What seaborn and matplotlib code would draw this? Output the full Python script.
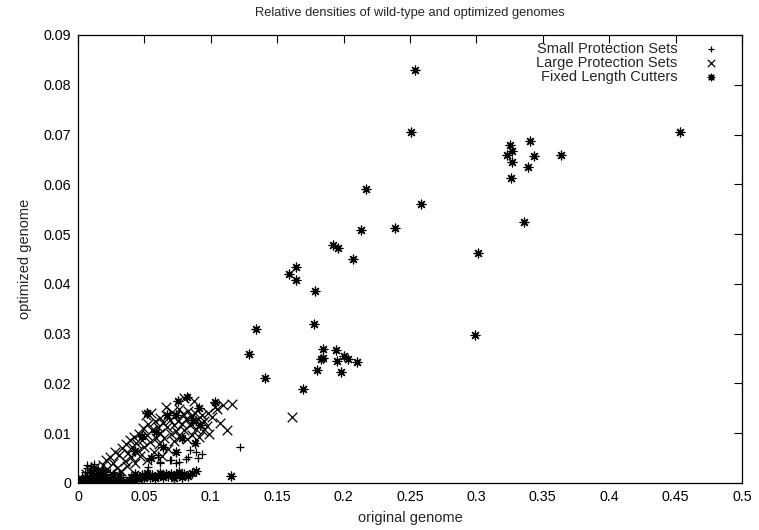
# Relative densities of wild-type and optimized genomes (gnuplot style)

import pandas as pd
import seaborn as sns
import matplotlib.pyplot as plt

# Small Protection Sets (+)
small_pts = [
    (0.001, 0.0002), (0.002, 0.0008), (0.003, 0.0004), (0.003, 0.0015), (0.004, 0.0011),
    (0.005, 0.0006), (0.005, 0.0022), (0.006, 0.0013), (0.007, 0.0030), (0.007, 0.0009),
    (0.008, 0.0017), (0.009, 0.0007), (0.009, 0.0026), (0.010, 0.0035), (0.011, 0.0013),
    (0.011, 0.0021), (0.012, 0.0032), (0.013, 0.0009), (0.014, 0.0024), (0.014, 0.0016),
    (0.015, 0.0029), (0.016, 0.0012), (0.017, 0.0021), (0.018, 0.0008), (0.019, 0.0026),
    (0.020, 0.0014), (0.021, 0.0019), (0.022, 0.0010), (0.024, 0.0022), (0.025, 0.0013),
    (0.027, 0.0017), (0.029, 0.0011), (0.031, 0.0020), (0.034, 0.0012), (0.007, 0.0036),
    (0.012, 0.0038), (0.053, 0.0033), (0.060, 0.0056), (0.0604, 0.0053), (0.0617, 0.0043),
    (0.0617, 0.0040), (0.069, 0.0046), (0.0697, 0.0046), (0.074, 0.0040), (0.0762, 0.0043),
    (0.0815, 0.0049), (0.083, 0.0053), (0.0842, 0.0066), (0.0892, 0.0063), (0.0905, 0.0050),
    (0.0935, 0.0058), (0.122, 0.0073),
]

# Large Protection Sets (x)
large_pts = [
    (0.003, 0.0009), (0.005, 0.0004), (0.006, 0.0019), (0.008, 0.0011), (0.009, 0.0027),
    (0.011, 0.0006), (0.012, 0.0018), (0.013, 0.0033), (0.015, 0.0012), (0.016, 0.0025),
    (0.018, 0.0008), (0.019, 0.0037), (0.020, 0.0019),
    (0.021, 0.0046), (0.022, 0.0029), (0.024, 0.0052), (0.025, 0.0021), (0.026, 0.0040),
    (0.028, 0.0063), (0.029, 0.0031), (0.031, 0.0056), (0.032, 0.0024), (0.033, 0.0070),
    (0.035, 0.0045), (0.036, 0.0078), (0.037, 0.0034), (0.038, 0.0061), (0.039, 0.0086),
    (0.040, 0.0052),
    (0.041, 0.0073), (0.042, 0.0093), (0.043, 0.0040), (0.044, 0.0081), (0.045, 0.0064),
    (0.046, 0.0099), (0.047, 0.0055), (0.048, 0.0087), (0.049, 0.0110), (0.050, 0.0072),
    (0.051, 0.0136), (0.052, 0.0047), (0.052, 0.0096), (0.053, 0.0118), (0.054, 0.0083),
    (0.055, 0.0140), (0.056, 0.0106), (0.057, 0.0062), (0.058, 0.0124), (0.059, 0.0091),
    (0.060, 0.0113),
    (0.061, 0.0078), (0.062, 0.0131), (0.062, 0.0101), (0.063, 0.0054), (0.064, 0.0121),
    (0.065, 0.0090), (0.066, 0.0153), (0.067, 0.0112), (0.067, 0.0134), (0.068, 0.0068),
    (0.069, 0.0127), (0.070, 0.0098), (0.071, 0.0142), (0.072, 0.0116), (0.072, 0.0084),
    (0.073, 0.0136), (0.074, 0.0105), (0.075, 0.0125), (0.076, 0.0148), (0.077, 0.0093),
    (0.078, 0.0119), (0.079, 0.0138), (0.080, 0.0171), (0.080, 0.0107),
    (0.081, 0.0129), (0.082, 0.0088), (0.083, 0.0145), (0.084, 0.0116), (0.085, 0.0134),
    (0.086, 0.0097), (0.087, 0.0164), (0.087, 0.0123), (0.088, 0.0140), (0.089, 0.0108),
    (0.090, 0.0128), (0.091, 0.0093), (0.092, 0.0119), (0.093, 0.0136), (0.094, 0.0104),
    (0.095, 0.0125), (0.097, 0.0114), (0.098, 0.0140), (0.099, 0.0098),
    (0.101, 0.0132), (0.103, 0.0152), (0.105, 0.0148), (0.107, 0.0120), (0.109, 0.0157),
    (0.112, 0.0107), (0.116, 0.0158), (0.161, 0.0133),
    (0.002, 0.0002), (0.004, 0.0001), (0.007, 0.0003), (0.010, 0.0002), (0.014, 0.0004),
    (0.017, 0.0002), (0.022, 0.0001),
]

# Fixed Length Cutters (*)
cutter_pts = [
    # upper part
    (0.254, 0.0830), (0.251, 0.0705), (0.453, 0.0706), (0.340, 0.0688), (0.325, 0.0678),
    (0.327, 0.0666), (0.323, 0.0659), (0.343, 0.0657), (0.364, 0.0658), (0.327, 0.0645),
    (0.339, 0.0635), (0.326, 0.0613), (0.258, 0.0561), (0.336, 0.0525), (0.239, 0.0513),
    (0.301, 0.0462), (0.299, 0.0297), (0.2168, 0.0590), (0.2128, 0.0508), (0.1917, 0.0479),
    (0.1957, 0.0472), (0.2073, 0.0450), (0.1639, 0.0433), (0.1589, 0.0419), (0.1639, 0.0407),
    (0.1784, 0.0386), (0.1774, 0.0319), (0.1341, 0.0309), (0.1845, 0.0270), (0.1942, 0.0268),
    (0.1291, 0.0260), (0.1827, 0.0250), (0.1842, 0.0251), (0.2002, 0.0256), (0.2035, 0.0249),
    (0.1952, 0.0246), (0.2098, 0.0244), (0.1799, 0.0226), (0.1982, 0.0223), (0.1409, 0.0210),
    (0.1692, 0.0188), (0.1155, 0.0015),
    # inside the cluster
    (0.091, 0.0150), (0.103, 0.0163), (0.0667, 0.0137), (0.074, 0.0137), (0.0867, 0.0127),
    (0.0917, 0.0117), (0.078, 0.0090), (0.064, 0.0073), (0.074, 0.0063), (0.059, 0.0103),
    (0.0754, 0.0165), (0.082, 0.0173), (0.052, 0.0140), (0.048, 0.0095), (0.043, 0.0065),
    (0.055, 0.0050), (0.088, 0.0080),
    # row along the bottom
    (0.040, 0.0012), (0.043, 0.0018), (0.046, 0.0009), (0.048, 0.0016), (0.050, 0.0011),
    (0.052, 0.0020), (0.054, 0.0013), (0.056, 0.0017), (0.058, 0.0010), (0.060, 0.0015),
    (0.062, 0.0021), (0.064, 0.0012), (0.066, 0.0018), (0.068, 0.0014), (0.070, 0.0019),
    (0.072, 0.0011), (0.074, 0.0016), (0.076, 0.0022), (0.078, 0.0013), (0.080, 0.0018),
    (0.083, 0.0015), (0.086, 0.0020), (0.089, 0.0024),
    # near the origin
    (0.001, 0.0001), (0.002, 0.0003), (0.003, 0.0001), (0.004, 0.0005), (0.005, 0.0002),
    (0.006, 0.0004), (0.007, 0.0001), (0.008, 0.0006), (0.009, 0.0003), (0.010, 0.0008),
    (0.011, 0.0002), (0.012, 0.0005), (0.013, 0.0010), (0.014, 0.0003), (0.015, 0.0007),
    (0.016, 0.0012), (0.017, 0.0004), (0.018, 0.0009), (0.019, 0.0002), (0.020, 0.0006),
    (0.021, 0.0011), (0.023, 0.0001), (0.026, 0.0002), (0.028, 0.0001), (0.030, 0.0002),
    (0.032, 0.0001), (0.034, 0.0002), (0.036, 0.0001), (0.039, 0.0004), (0.042, 0.0006),
    (0.015, 0.0020), (0.010, 0.0016), (0.018, 0.0025), (0.026, 0.0017), (0.031, 0.0016),
]

series_names = ['Small Protection Sets', 'Large Protection Sets', 'Fixed Length Cutters']
x_ticks = [0, 0.05, 0.1, 0.15, 0.2, 0.25, 0.3, 0.35, 0.4, 0.45, 0.5]
x_labels = ['0', '0.05', '0.1', '0.15', '0.2', '0.25', '0.3', '0.35', '0.4', '0.45', '0.5']
y_ticks = [0, 0.01, 0.02, 0.03, 0.04, 0.05, 0.06, 0.07, 0.08, 0.09]
y_labels = ['0', '0.01', '0.02', '0.03', '0.04', '0.05', '0.06', '0.07', '0.08', '0.09']

# Monta um dataframe por série
frames = []
for name, pts in zip(series_names, [small_pts, large_pts, cutter_pts]):
    d = pd.DataFrame(pts, columns=['x', 'y'])
    d['serie'] = name
    frames.append(d)

sns.set_style('white')
plt.rcParams['font.family'] = ['Liberation Sans', 'DejaVu Sans']

fig = plt.figure(figsize=(7.59, 5.30), dpi=100)
ax = fig.add_axes([0.1028, 0.0887, 0.8748, 0.8453])

markers = ['+', 'x', (8, 2, 0)]
sizes = [40, 48, 40]
for d, m, s in zip(frames, markers, sizes):
    sns.scatterplot(x='x', y='y', data=d, marker=m, s=s, color='black',
                    linewidth=0.9, label=d['serie'].iloc[0], ax=ax)

ax.set_xlim(0, 0.5)
ax.set_ylim(0, 0.09)
ax.set_xticks(x_ticks)
ax.set_xticklabels(x_labels)
ax.set_yticks(y_ticks)
ax.set_yticklabels(y_labels)
ax.tick_params(direction='in', top=True, right=True, length=6, width=0.8,
               labelsize=10.3, pad=5, colors='black')
for sp in ax.spines.values():
    sp.set_color('black')
    sp.set_linewidth(0.9)

ax.set_xlabel('original genome', fontsize=10.5, labelpad=5)
ax.set_ylabel('optimized genome', fontsize=10.5, labelpad=8)
ax.set_title('Relative densities of wild-type and optimized genomes', fontsize=9.3, pad=14)

leg = ax.legend(loc='upper right', bbox_to_anchor=(0.9639, 0.984), frameon=False,
                markerfirst=False, fontsize=10.5, markerscale=0.75,
                handletextpad=1.8, labelspacing=0.0, borderaxespad=0, borderpad=0,
                handlelength=1.0)

plt.savefig('out.png', dpi=100)
